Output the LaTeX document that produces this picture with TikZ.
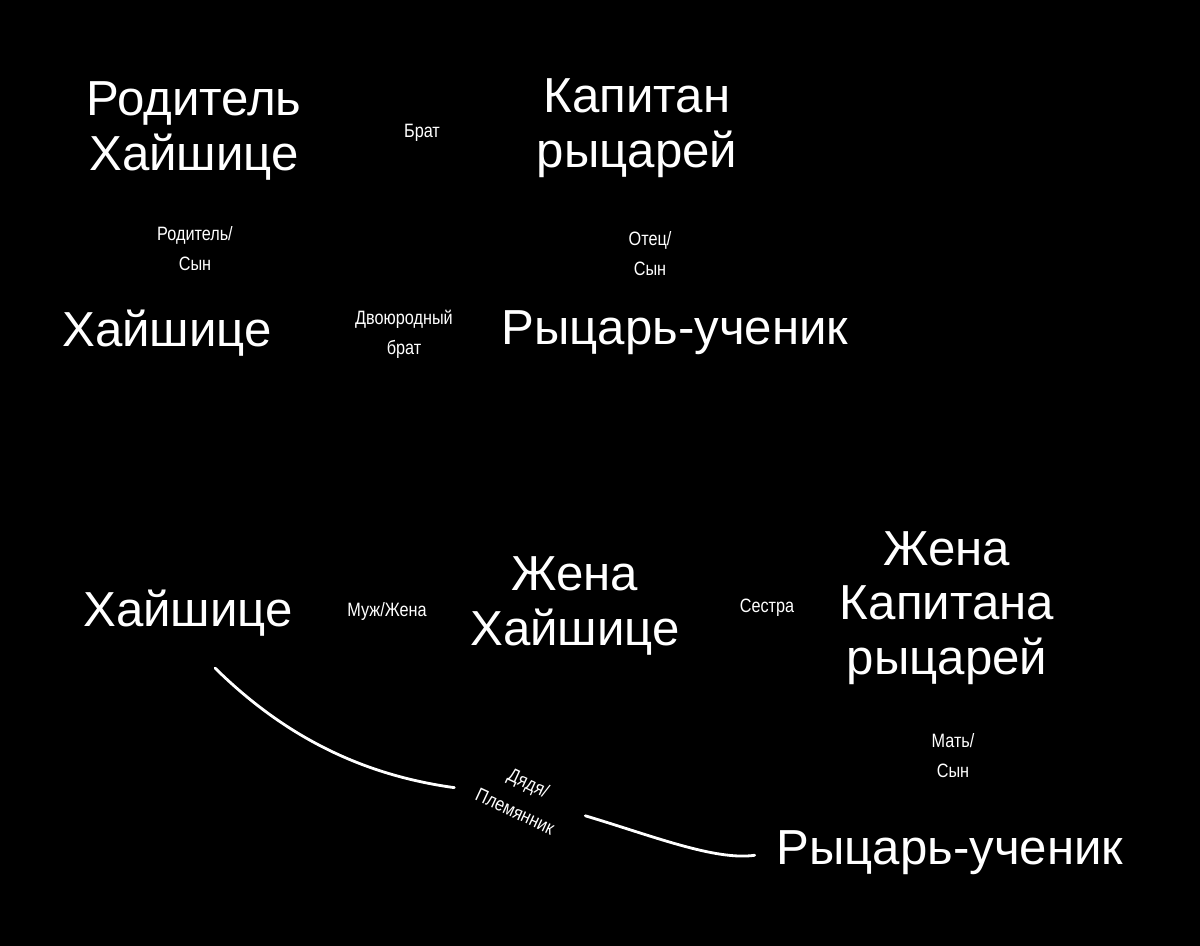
\documentclass[tikz,border=0pt]{standalone}
\usepackage{fontspec}
\setmainfont{Liberation Sans}
\newfontfamily\handfont[FakeStretch=0.84]{Liberation Sans}
\usepackage{tikz}
\usetikzlibrary{calc,positioning}
\tikzstyle{big}  = [text=white, align=center, font=\fontsize{28}{31}\selectfont]
\tikzstyle{rel}  = [text=white, align=center, font=\handfont\fontsize{11}{17}\selectfont]
\tikzstyle{link} = [draw=white, line width=1.6pt, line cap=round]

\begin{document}
\begin{tikzpicture}
		\fill[black] (0,0) rectangle (24,-18.92);

		\node[big] (parhs) at (3.88,-2.62) {Родитель\\Хайшице};
		\node[big] (kap) at (12.74,-2.56) {Капитан\\рыцарей};
		\node[big] (hs1) at (3.34,-6.66) {Хайшице};
		\node[big] (ru1) at (13.50,-6.66) {Рыцарь-ученик};

		\node[rel] (brat) at (8.44,-2.66) {Брат};
		\node[rel] (par) at (3.90,-4.98) {Родитель/\\Сын};
		\node[rel] (otec) at (13.00,-5.08) {Отец/\\Сын};
		\node[rel] (dvo) at (8.08,-6.68) {Двоюродный\\брат};

		\node[big] (hs2) at (3.76,-12.26) {Хайшице};
		\node[big] (zh) at (11.50,-12.12) {Жена\\Хайшице};
		\node[big] (zhkap) at (18.94,-12.16) {Жена\\Капитана\\рыцарей};
		\node[big] (ru2) at (19.00,-17.06) {Рыцарь-ученик};

		\node[rel] (muzh) at (7.74,-12.22) {Муж/Жена};
		\node[rel] (sestra) at (15.34,-12.16) {Сестра};
		\node[rel] (mat) at (19.06,-15.12) {Мать/\\Сын};
		\node[rel, rotate=-25, inner xsep=13pt, inner ysep=6pt,
			font=\handfont\fontsize{11}{18}\selectfont] (dyadya) at (10.44,-15.94) {Дядя/\\Племянник};

		\coordinate (u1) at (4.30,-13.36);
		\draw[link] (u1) .. controls (5.80,-14.84) and (7.40,-15.52) .. (dyadya);
		\draw[link, shorten >=9pt] (dyadya) .. controls (13.00,-16.70) and (14.30,-17.22) .. (ru2.west);
	\end{tikzpicture}
\end{document}
